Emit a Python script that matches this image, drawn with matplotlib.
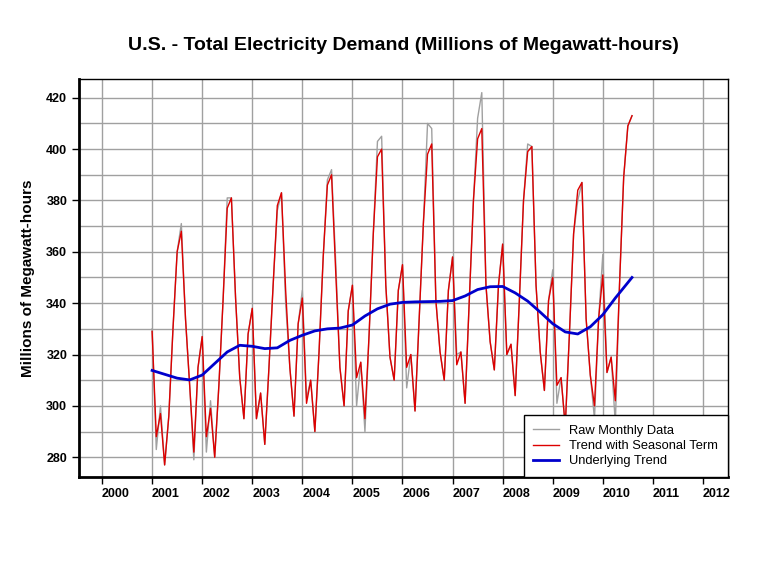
import numpy as np
import matplotlib
matplotlib.use("Agg")
import matplotlib.pyplot as plt
from matplotlib.ticker import MultipleLocator

plt.rcParams['font.family'] = ['Liberation Sans', 'DejaVu Sans']

# === Data (monthly, starting Jan 2001) ===
start_year = 2001
trend_seasonal = [
    # 2001
    329, 288, 297, 277, 296, 330, 360, 368, 334, 308, 282, 315,
    # 2002
    327, 288, 299, 280, 308, 341, 377, 381, 342, 311, 295, 328,
    # 2003
    338, 295, 305, 285, 315, 347, 378, 383, 345, 315, 296, 332,
    # 2004
    342, 301, 310, 290, 321, 358, 386, 390, 352, 315, 300, 337,
    # 2005
    347, 311, 317, 295, 328, 367, 397, 400, 347, 319, 310, 345,
    # 2006
    355, 315, 320, 298, 334, 371, 398, 402, 341, 321, 310, 345,
    # 2007
    358, 316, 321, 301, 341, 380, 404, 408, 347, 325, 314, 347,
    # 2008
    363, 320, 324, 304, 341, 380, 399, 401, 347, 321, 306, 341,
    # 2009
    350, 308, 311, 292, 328, 367, 384, 387, 334, 312, 300, 334,
    # 2010
    351, 313, 319, 302, 347, 389, 409, 413,
]
raw_monthly = [
    # 2001
    330, 283, 300, 277, 296, 330, 360, 371, 334, 308, 279, 315,
    # 2002
    327, 282, 302, 280, 308, 341, 381, 381, 342, 311, 295, 328,
    # 2003
    338, 295, 305, 285, 315, 347, 376, 383, 340, 315, 296, 332,
    # 2004
    345, 303, 310, 290, 321, 358, 388, 392, 356, 315, 300, 337,
    # 2005
    347, 300, 317, 290, 328, 367, 403, 405, 347, 319, 310, 345,
    # 2006
    355, 307, 320, 298, 334, 371, 410, 408, 341, 321, 310, 345,
    # 2007
    358, 320, 321, 301, 341, 380, 412, 422, 347, 325, 314, 347,
    # 2008
    363, 320, 324, 304, 341, 380, 402, 401, 347, 321, 306, 341,
    # 2009
    353, 301, 311, 292, 328, 367, 380, 387, 334, 312, 295, 334,
    # 2010
    359, 313, 319, 293, 347, 389, 409, 413,
]
trend_years = [2001.0, 2001.25, 2001.5, 2001.75, 2002.0, 2002.25, 2002.5, 2002.75,
               2003.0, 2003.25, 2003.5, 2003.75, 2004.0, 2004.25, 2004.5, 2004.75,
               2005.0, 2005.25, 2005.5, 2005.75, 2006.0, 2006.25, 2006.5, 2006.75,
               2007.0, 2007.25, 2007.5, 2007.75, 2008.0, 2008.25, 2008.5, 2008.75,
               2009.0, 2009.25, 2009.5, 2009.75, 2010.0, 2010.25, 2010.5, 2010.583]
underlying_trend = [313.8, 312.3, 310.8, 310.1, 312.0, 316.5, 321.0, 323.6,
                    323.2, 322.3, 322.6, 325.5, 327.5, 329.2, 330.0, 330.3,
                    331.5, 335.0, 337.8, 339.6, 340.3, 340.5, 340.6, 340.7,
                    341.0, 342.8, 345.3, 346.4, 346.5, 344.0, 340.8, 336.5,
                    332.0, 328.8, 328.0, 330.8, 335.5, 342.0, 348.0, 350.0]
year_ticks = list(range(2000, 2013))

months = start_year + np.arange(len(trend_seasonal)) / 12.0

# === Plot ===
fig = plt.figure(figsize=(7.68, 5.76), dpi=100)
ax = fig.add_axes([79 / 768, 1 - 477 / 576, (728 - 79) / 768, (477 - 79) / 576])

ax.plot(months, raw_monthly, color='#a0a0a0', lw=1, label='Raw Monthly Data', zorder=3)
ax.plot(months, trend_seasonal, color='#dd0000', lw=1, label='Trend with Seasonal Term', zorder=4)
ax.plot(trend_years, underlying_trend, color='#0000cc', lw=2, label='Underlying Trend', zorder=5)

ax.set_xlim(1999.54, 2012.5)
ax.set_ylim(272.3, 427.3)
ax.set_xticks(year_ticks)
ax.set_xticklabels([str(y) for y in year_ticks], ha='left', fontweight='bold', fontsize=9)
ax.yaxis.set_major_locator(MultipleLocator(20))
ax.yaxis.set_minor_locator(MultipleLocator(10))
for lab in ax.get_yticklabels():
    lab.set_fontweight('bold')
    lab.set_fontsize(9)
ax.tick_params(axis='both', which='major', direction='out', length=5, width=1, colors='black')
ax.tick_params(axis='y', which='minor', length=0)
ax.tick_params(axis='x', pad=3)

ax.grid(True, which='major', axis='x', color='#a0a0a0', lw=1)
ax.grid(True, which='both', axis='y', color='#a0a0a0', lw=1)
ax.set_axisbelow(True)

for side in ['top', 'right']:
    ax.spines[side].set_linewidth(1)
for side in ['left', 'bottom']:
    ax.spines[side].set_linewidth(2)

ax.set_ylabel('Millions of Megawatt-hours', fontweight='bold', fontsize=11, labelpad=8)
ax.set_title('U.S. - Total Electricity Demand (Millions of Megawatt-hours)',
             fontweight='bold', fontsize=14, pad=21)

leg = ax.legend(loc='lower right', borderaxespad=0, fancybox=False, framealpha=1,
                edgecolor='black', fontsize=9.3, handlelength=2.0, handletextpad=0.8,
                borderpad=0.75, labelspacing=0.25)
leg.get_frame().set_linewidth(1)
leg.set_zorder(10)

fig.savefig('out.png', dpi=100)
